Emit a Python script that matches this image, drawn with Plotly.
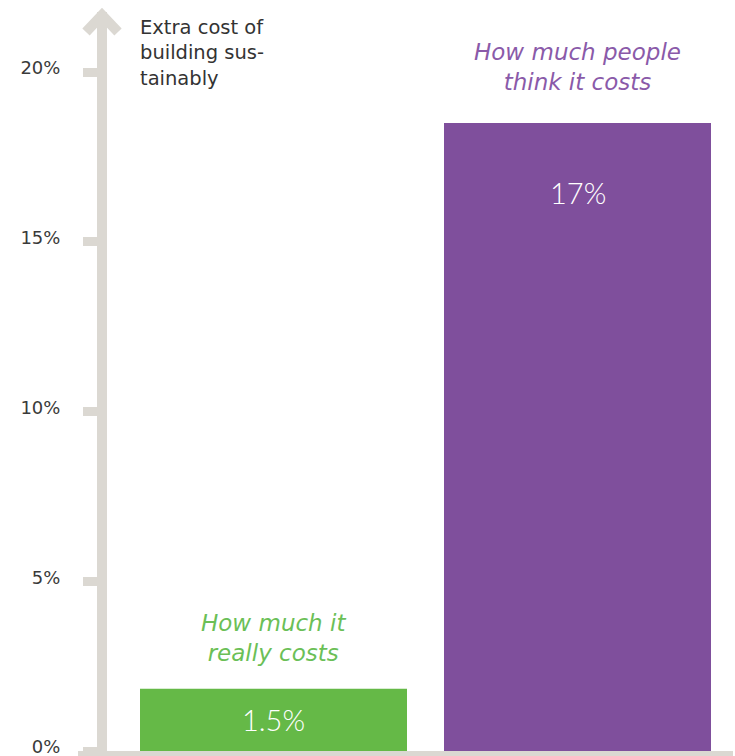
import plotly.graph_objects as go

# ---- data ----
categories = ["How much it really costs", "How much people think it costs"]
label_lines = [["How much it", "really costs"], ["How much people", "think it costs"]]
bar_values = [1.83, 18.5]          # bar heights as drawn (percent)
value_labels = ["1.5%", "17%"]
tick_values = [0, 5, 10, 15, 20]
tick_labels = ["0%", "5%", "10%", "15%", "20%"]
axis_title_lines = ["Extra cost of", "building sus-", "tainably"]

# ---- style ----
W, H = 735, 756
ML, MR, MT, MB = 107, 0, 12, 5
PW, PH = W - ML - MR, H - MT - MB
GRAY = "#dbd8d2"
BAR_COLORS = ["#65b947", "#7f4f9c"]
TEXT_COLORS = ["#6bbf57", "#8a5aa9"]
FONT_LIGHT = "Lato"
FONT_WIDE = "DejaVu Sans"

px_per_cat = 304.0
x_range = [-(273.5 - ML) / px_per_cat, 1 + (W - 577.5) / px_per_cat]
px_per_unit = 33.95
y_range = [0, PH / px_per_unit]


def px(xp):
    return (xp - ML) / PW


def py(yp):
    return (H - MB - yp) / PH


fig = go.Figure()
fig.add_trace(go.Bar(
    x=categories, y=bar_values,
    marker=dict(color=BAR_COLORS, line=dict(width=0)),
    hoverinfo="skip",
))

annotations = []
# value labels inside bars
value_shifts = [None, -70]
for i, (c, v, t) in enumerate(zip(categories, bar_values, value_labels)):
    if value_shifts[i] is None:
        yv, ys = v / 2, 0
    else:
        yv, ys = v, value_shifts[i]
    annotations.append(dict(
        x=c, y=yv, yshift=ys, text=t, showarrow=False,
        xanchor="center", yanchor="middle",
        font=dict(family=FONT_LIGHT, size=29, color="white", weight=300),
    ))

# category labels above bars
label_shifts = [51, 56]
for i, (c, v, lines) in enumerate(zip(categories, bar_values, label_lines)):
    annotations.append(dict(
        x=c, y=v, yshift=label_shifts[i], text="<br>".join(lines),
        showarrow=False, xanchor="center", yanchor="middle", align="center",
        font=dict(family=FONT_WIDE, size=23, color=TEXT_COLORS[i],
                  style="italic", weight=300),
    ))

# axis title
annotations.append(dict(
    xref="paper", yref="paper", x=px(138), y=py(14),
    text="<br>".join(axis_title_lines), showarrow=False,
    xanchor="left", yanchor="top", align="left",
    font=dict(family=FONT_WIDE, size=19.5, color="#333333"),
))

shapes = [
    # baseline
    dict(type="rect", xref="paper", yref="paper",
         x0=px(78), x1=px(733), y0=py(751), y1=py(762),
         fillcolor=GRAY, line=dict(width=0), layer="above"),
    # arrow head
    dict(type="path", xref="paper", yref="paper",
         path=f"M {px(86)},{py(32)} L {px(102)},{py(15)} L {px(118)},{py(32)}",
         line=dict(color=GRAY, width=10), layer="above"),
    # extend axis line to the head
    dict(type="rect", xref="paper", yref="paper",
         x0=px(97), x1=px(107), y0=py(40), y1=py(15),
         fillcolor=GRAY, line=dict(width=0), layer="above"),
]

fig.update_layout(
    width=W, height=H,
    margin=dict(l=ML, r=MR, t=MT, b=MB, pad=0),
    paper_bgcolor="white", plot_bgcolor="white",
    showlegend=False, bargap=0.1217,
    xaxis=dict(range=x_range, showline=False, showticklabels=False,
               ticks="", showgrid=False, zeroline=False, fixedrange=True),
    yaxis=dict(range=y_range, showline=True, linewidth=10, linecolor=GRAY,
               ticks="outside", ticklen=14, tickwidth=9, tickcolor=GRAY,
               tickvals=tick_values, ticktext=tick_labels,
               tickfont=dict(family=FONT_WIDE, size=18, color="#3a3a3a"),
               ticklabelstandoff=19, ticklabelshift=-4,
               ticklabeloverflow="allow",
               showgrid=False, zeroline=False, automargin=False,
               fixedrange=True),
    annotations=annotations, shapes=shapes,
)

fig.write_html(
    "out.html",
    config={"displayModeBar": False},
    post_script="document.body.style.margin='0';document.body.style.padding='0';",
)
